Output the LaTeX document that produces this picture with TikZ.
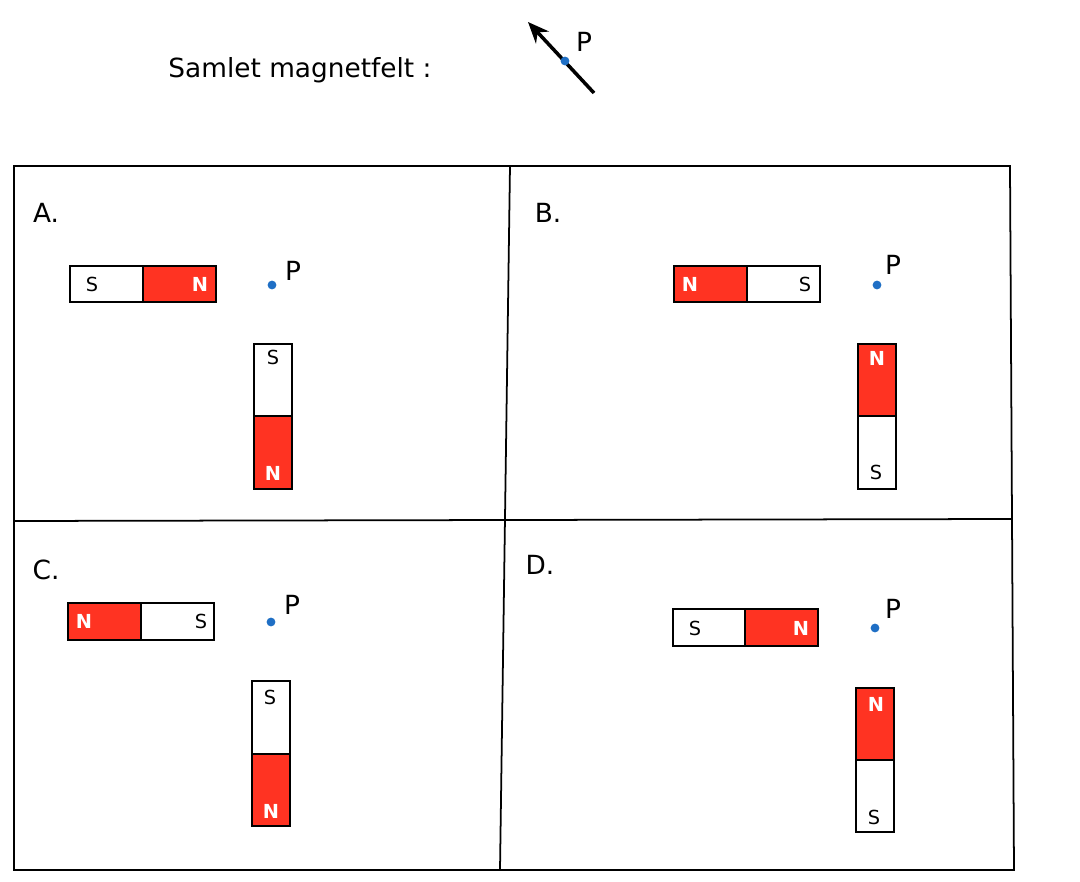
\documentclass[tikz,border=0pt]{standalone}
\usepackage{fontspec}
\setmainfont{DejaVu Sans}
\usetikzlibrary{arrows.meta}
\definecolor{magred}{HTML}{FF3322}
\definecolor{dotblue}{HTML}{1F6FC5}
\tikzset{
  half/.style={draw=black, line width=1pt, fill=white},
  northhalf/.style={half, fill=magred},
  pole/.style={font=\fontsize{11}{11}\selectfont},
  npole/.style={font=\bfseries\fontsize{11}{11}\selectfont, text=white},
  pdot/.style={circle, fill=dotblue, inner sep=0pt, minimum size=5pt},
  plabel/.style={font=\fontsize{15}{15}\selectfont},
  tag/.style={font=\fontsize{15}{15}\selectfont}
}
\begin{document}
\begin{tikzpicture}[x=0.02cm, y=-0.02cm]
\useasboundingbox (0,0) rectangle (1080,882);

% heading
\node[font=\fontsize{15}{15}\selectfont] (title) at (300,70) {Samlet magnetfelt :};
\coordinate (tail) at (594,93);
\coordinate (head) at (528,22);
\draw[line width=2pt, -{Stealth[length=12pt,width=10pt]}] (tail) -- (head);
\node[pdot] (p0) at (565,61) {};
\node[plabel] (p0l) at (584,42) {P};

% frame
\draw[line width=1pt] (14,166) -- (1010,166) -- (1014,870) -- (14,870) -- cycle;
\draw[line width=1pt] (510,166) -- (500,870);
\draw[line width=1pt] (14,521) -- (1012,519);

% A
\node[tag] (ta) at (46,213) {A.};
\draw[half] (70,266) rectangle (143,302);
\draw[northhalf] (143,266) rectangle (216,302);
\node[pole] (as) at (92,284) {S};
\node[npole] (an) at (200,284) {N};
\node[pdot] (pa) at (272,285) {};
\node[plabel] (pal) at (293,271) {P};
\draw[half] (254,344) rectangle (292,416);
\draw[northhalf] (254,416) rectangle (292,489);
\node[pole] (avs) at (273,357) {S};
\node[npole] (avn) at (273,473) {N};

% B
\node[tag] (tb) at (548,213) {B.};
\draw[northhalf] (674,266) rectangle (747,302);
\draw[half] (747,266) rectangle (820,302);
\node[npole] (bn) at (690,284) {N};
\node[pole] (bs) at (805,284) {S};
\node[pdot] (pb) at (877,285) {};
\node[plabel] (pbl) at (893,265) {P};
\draw[northhalf] (858,344) rectangle (896,416);
\draw[half] (858,416) rectangle (896,489);
\node[npole] (bvn) at (877,358) {N};
\node[pole] (bvs) at (876,472) {S};

% C
\node[tag] (tc) at (46,570) {C.};
\draw[northhalf] (68,603) rectangle (141,640);
\draw[half] (141,603) rectangle (214,640);
\node[npole] (cn) at (84,621) {N};
\node[pole] (cs) at (201,621) {S};
\node[pdot] (pc) at (271,622) {};
\node[plabel] (pcl) at (292,605) {P};
\draw[half] (252,681) rectangle (290,754);
\draw[northhalf] (252,754) rectangle (290,826);
\node[pole] (cvs) at (270,697) {S};
\node[npole] (cvn) at (271,811) {N};

% D
\node[tag] (td) at (540,565) {D.};
\draw[half] (673,609) rectangle (745,646);
\draw[northhalf] (745,609) rectangle (818,646);
\node[pole] (ds) at (695,628) {S};
\node[npole] (dn) at (801,628) {N};
\node[pdot] (pd) at (875,628) {};
\node[plabel] (pdl) at (893,609) {P};
\draw[northhalf] (856,688) rectangle (894,760);
\draw[half] (856,760) rectangle (894,832);
\node[npole] (dvn) at (876,704) {N};
\node[pole] (dvs) at (874,817) {S};
\end{tikzpicture}
\end{document}
